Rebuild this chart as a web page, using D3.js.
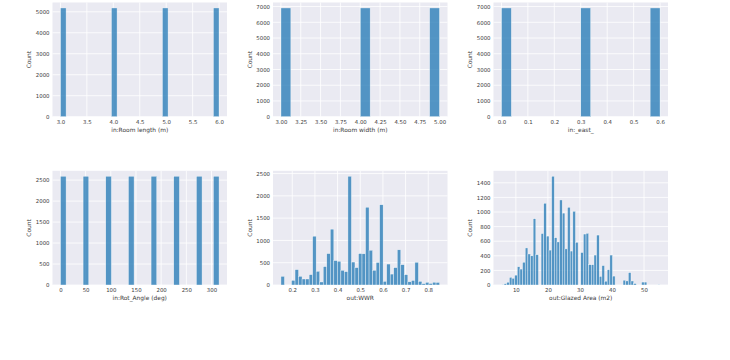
<!DOCTYPE html>
<html><head><meta charset="utf-8">
<script src="https://cdn.jsdelivr.net/npm/d3@7"></script>
<style>
body{margin:0;background:#fff}
svg{display:block}
text{font-family:"DejaVu Sans",sans-serif;fill:#3a3a3a}
</style>
</head><body>
<svg id="chart" width="730" height="360"></svg>
<script>
// ---- data ----
const xLabels = ["in:Room length (m)", "in:Room width (m)", "in:_east_",
                 "in:Rot_Angle (deg)", "out:WWR", "out:Glazed Area (m2)"];
// data range [min, max] of each histogram; bins span it evenly
const binRanges = [[3, 6], [3, 5], [0, 0.6], [0, 315], [0.15, 0.85], [5.5, 55]];

const countsRoomLength = [5184,0,0,0,0,0,0,0,0,5184,0,0,0,0,0,0,0,0,5184,0,0,0,0,0,0,0,0,5184];
const countsRoomWidth  = [6912,0,0,0,0,0,0,0,6912,0,0,0,0,0,0,6912];
const countsEast       = [6912,0,0,0,0,0,0,0,6912,0,0,0,0,0,0,6912];
const countsRotAngle   = [2592,0,0,0,2592,0,0,0,2592,0,0,0,2592,0,0,0,2592,0,0,0,2592,0,0,0,2592,0,0,2592];
const countsWWR = [195,0,0,105,345,195,135,135,233,1095,308,68,413,705,1253,548,533,330,300,2440,
                   515,390,705,700,1745,780,330,505,1800,82,470,245,390,790,455,232,72,102,510,82,
                   30,60,35,62,58];
const countsGlazed = [5,18,38,105,92,135,250,218,312,508,425,400,908,415,0,705,1120,670,478,1490,
                      648,590,1165,985,495,1065,465,1010,585,0,445,698,708,278,278,410,684,118,266,52,
                      210,410,122,0,0,0,66,56,170,55,20,0,0,40,40,0,0,0,0,5];
const allCounts = [countsRoomLength, countsRoomWidth, countsEast, countsRotAngle, countsWWR, countsGlazed];

const xTicks = [
  [3.0, 3.5, 4.0, 4.5, 5.0, 5.5, 6.0],
  [3.00, 3.25, 3.50, 3.75, 4.00, 4.25, 4.50, 4.75, 5.00],
  [0.0, 0.1, 0.2, 0.3, 0.4, 0.5, 0.6],
  [0, 50, 100, 150, 200, 250, 300],
  [0.2, 0.3, 0.4, 0.5, 0.6, 0.7, 0.8],
  [10, 20, 30, 40, 50]
];
const xTickFormats = [".1f", ".2f", ".1f", "d", ".1f", "d"];
const yTicks = [
  [0, 1000, 2000, 3000, 4000, 5000],
  [0, 1000, 2000, 3000, 4000, 5000, 6000, 7000],
  [0, 1000, 2000, 3000, 4000, 5000, 6000, 7000],
  [0, 500, 1000, 1500, 2000, 2500],
  [0, 500, 1000, 1500, 2000, 2500],
  [0, 200, 400, 600, 800, 1000, 1200, 1400]
];

// ---- layout ----
const colLeft = [52.5, 273, 493.5];
const rowTop = [2.5, 170.8];
const W = 174.5, H = 114.2;
const fs = 5.4;
const textColor = "#3a3a3a";

const svg = d3.select("#chart");

allCounts.forEach((counts, i) => {
  const col = i % 3, row = Math.floor(i / 3);
  const [mn, mx] = binRanges[i];
  const n = counts.length;
  const bw = (mx - mn) / n;
  const pad = (mx - mn) * 0.05;
  const ymax = d3.max(counts) * 1.05;

  const x = d3.scaleLinear().domain([mn - pad, mx + pad]).range([0, W]);
  const y = d3.scaleLinear().domain([0, ymax]).range([H, 0]);

  const g = svg.append("g").attr("transform", `translate(${colLeft[col]},${rowTop[row]})`);
  g.append("rect").attr("width", W).attr("height", H).attr("fill", "#EAEAF2");

  // grid
  g.selectAll(".gx").data(xTicks[i]).join("line")
    .attr("x1", d => x(d)).attr("x2", d => x(d)).attr("y1", 0).attr("y2", H)
    .attr("stroke", "#fff").attr("stroke-width", 0.8);
  g.selectAll(".gy").data(yTicks[i]).join("line")
    .attr("x1", 0).attr("x2", W).attr("y1", d => y(d)).attr("y2", d => y(d))
    .attr("stroke", "#fff").attr("stroke-width", 0.8);

  // bars
  const bins = counts.map((c, k) => ({x0: mn + k * bw, x1: mn + (k + 1) * bw, c}));
  g.selectAll(".bar").data(bins.filter(b => b.c > 0)).join("rect")
    .attr("x", d => x(d.x0)).attr("width", d => x(d.x1) - x(d.x0))
    .attr("y", d => y(d.c)).attr("height", d => y(0) - y(d.c))
    .attr("fill", "#1f77b4").attr("fill-opacity", 0.75)
    .attr("stroke", "#fff").attr("stroke-opacity", 0.75).attr("stroke-width", 0.5);

  // axes via d3 axis (no tick lines, no domain)
  const fmt = d3.format(xTickFormats[i]);
  const ax = g.append("g").attr("transform", `translate(0,${H})`)
    .call(d3.axisBottom(x).tickValues(xTicks[i]).tickFormat(fmt).tickSize(0).tickPadding(3));
  const ay = g.append("g")
    .call(d3.axisLeft(y).tickValues(yTicks[i]).tickFormat(d3.format("d")).tickSize(0).tickPadding(3));
  [ax, ay].forEach(a => {
    a.select(".domain").remove();
    a.selectAll("text").attr("font-size", fs).attr("font-family", "DejaVu Sans").attr("fill", textColor);
  });

  g.append("text").attr("x", W / 2).attr("y", H + 13.3).attr("text-anchor", "middle")
    .attr("dominant-baseline", "middle").attr("font-size", 5.9).attr("fill", textColor).text(xLabels[i]);
  g.append("text").attr("transform", `translate(-23,${H / 2}) rotate(-90)`)
    .attr("text-anchor", "middle").attr("dominant-baseline", "middle")
    .attr("font-size", 5.9).attr("fill", textColor).text("Count");
});
</script>
</body></html>
